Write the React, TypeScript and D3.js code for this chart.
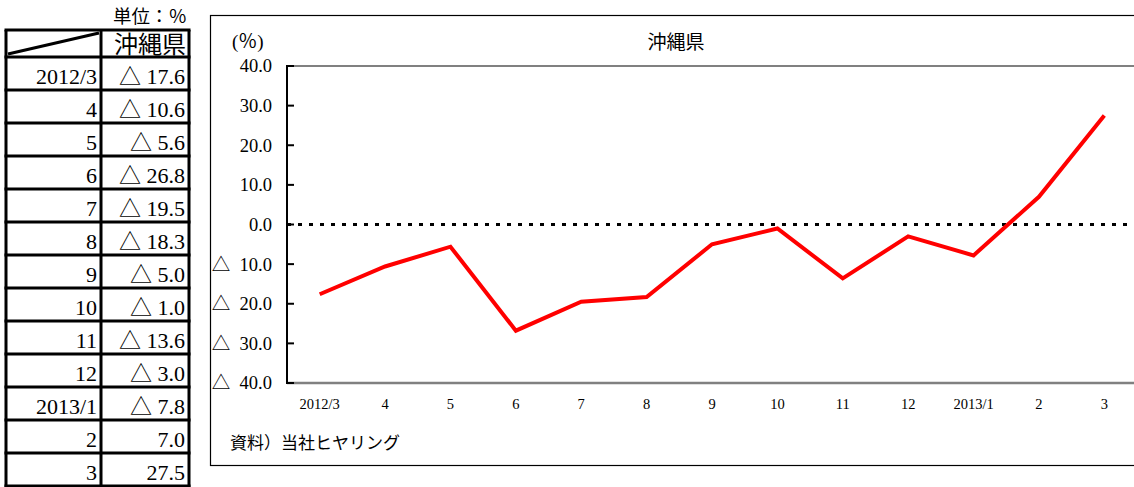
import { useRef, useEffect } from "react";
import * as d3 from "d3";

const months = ["2012/3", "4", "5", "6", "7", "8", "9", "10", "11", "12", "2013/1", "2", "3"];
const okinawa = [-17.6, -10.6, -5.6, -26.8, -19.5, -18.3, -5.0, -1.0, -13.6, -3.0, -7.8, 7.0, 27.5];
const yTicks = [40, 30, 20, 10, 0, -10, -20, -30, -40];

const FONT = "'Liberation Serif', 'Noto Sans CJK JP', serif";

// negatives are written with a triangle, as in the source sheet
const fmt = (v: number, gap = "\u00a0\u00a0") => (v < 0 ? "△" + gap + Math.abs(v).toFixed(1) : v.toFixed(1));

export default function App() {
  const ref = useRef<SVGSVGElement>(null);

  useEffect(() => {
    const svg = d3.select(ref.current);
    svg.selectAll("*").remove();

    const width = 1134;
    const height = 487;

    svg.attr("width", width).attr("height", height).style("font-family", FONT);

    // ---- table on the left ----
    const tbl = { left: 6, mid: 101, right: 189, top: 30, head: 57, rowH: 33 };
    const tg = svg.append("g");

    tg.append("text")
      .attr("x", tbl.right - 2)
      .attr("y", 23)
      .attr("text-anchor", "end")
      .attr("font-size", 18.5)
      .text("単位：％");

    tg.append("text")
      .attr("x", tbl.right - 3)
      .attr("y", 53)
      .attr("text-anchor", "end")
      .attr("font-size", 24)
      .text("沖縄県");

    const rowY = (i: number) => tbl.head + i * tbl.rowH;

    months.forEach((m, i) => {
      tg.append("text")
        .attr("x", tbl.mid - 4)
        .attr("y", rowY(i) + 27)
        .attr("text-anchor", "end")
        .attr("font-size", 22)
        .text(m);
      tg.append("text")
        .attr("x", tbl.right - 4)
        .attr("y", rowY(i) + 27)
        .attr("text-anchor", "end")
        .attr("font-size", 22)
        .text(fmt(okinawa[i], "\u00a0"));
    });

    const hLines = [tbl.top, ...months.map((_, i) => rowY(i)), rowY(months.length)];
    hLines.forEach(y => {
      tg.append("line")
        .attr("x1", tbl.left - 1.5).attr("x2", tbl.right + 1.5)
        .attr("y1", y).attr("y2", y)
        .attr("stroke", "#000").attr("stroke-width", 3);
    });
    [tbl.left, tbl.mid, tbl.right].forEach(x => {
      tg.append("line")
        .attr("x1", x).attr("x2", x)
        .attr("y1", tbl.top).attr("y2", height)
        .attr("stroke", "#000").attr("stroke-width", 3);
    });
    tg.append("line")
      .attr("x1", tbl.left + 2).attr("y1", tbl.head - 3)
      .attr("x2", tbl.mid - 2).attr("y2", tbl.top + 3)
      .attr("stroke", "#000").attr("stroke-width", 3);

    // ---- chart ----
    svg.append("rect")
      .attr("x", 210.5).attr("y", 15.5)
      .attr("width", 1000).attr("height", 450)
      .attr("fill", "none").attr("stroke", "#000").attr("stroke-width", 1.2);

    const margin = { top: 66, bottom: 383, left: 287, right: 1137 };

    const x = d3.scaleBand<string>()
      .domain(months)
      .range([margin.left, margin.right])
      .padding(0);
    const cx = (m: string) => (x(m) ?? 0) + x.bandwidth() / 2;

    const y = d3.scaleLinear()
      .domain([-40, 40])
      .range([margin.bottom, margin.top]);

    svg.append("text")
      .attr("x", 676).attr("y", 49)
      .attr("text-anchor", "middle")
      .attr("font-size", 19)
      .text("沖縄県");

    svg.append("text")
      .attr("x", 232).attr("y", 48)
      .attr("font-size", 19)
      .text("(％)");

    // plot frame top / bottom
    svg.append("line")
      .attr("x1", margin.left).attr("x2", width)
      .attr("y1", y(40)).attr("y2", y(40))
      .attr("stroke", "#808080").attr("stroke-width", 2);
    svg.append("line")
      .attr("x1", margin.left).attr("x2", width)
      .attr("y1", y(-40)).attr("y2", y(-40))
      .attr("stroke", "#808080").attr("stroke-width", 2.5);

    // y axis
    const yAxis = svg.append("g");
    yAxis.append("line")
      .attr("x1", margin.left).attr("x2", margin.left)
      .attr("y1", y(40) - 1).attr("y2", y(-40) + 1)
      .attr("stroke", "#000").attr("stroke-width", 2);
    yTicks.forEach(t => {
      yAxis.append("line")
        .attr("x1", margin.left).attr("x2", margin.left + 7)
        .attr("y1", y(t)).attr("y2", y(t))
        .attr("stroke", "#000").attr("stroke-width", 2);
      yAxis.append("text")
        .attr("x", 272)
        .attr("y", y(t))
        .attr("dy", "0.35em")
        .attr("text-anchor", "end")
        .attr("font-size", 18.5)
        .text(fmt(t));
    });

    // zero line
    svg.append("line")
      .attr("x1", margin.left).attr("x2", width)
      .attr("y1", y(0)).attr("y2", y(0))
      .attr("stroke", "#000").attr("stroke-width", 3)
      .attr("stroke-dasharray", "4 7");

    // x labels
    months.forEach(m => {
      svg.append("text")
        .attr("x", cx(m))
        .attr("y", 404)
        .attr("dy", "0.35em")
        .attr("text-anchor", "middle")
        .attr("font-size", 14.5)
        .text(m);
    });

    // series line
    const line = d3.line<number>()
      .x((_, i) => cx(months[i]))
      .y(d => y(d));

    svg.append("path")
      .datum(okinawa)
      .attr("d", line)
      .attr("fill", "none")
      .attr("stroke", "#ff0000")
      .attr("stroke-width", 4)
      .attr("stroke-linejoin", "miter");

    svg.append("text")
      .attr("x", 230).attr("y", 449)
      .attr("font-size", 17)
      .text("資料）当社ヒヤリング");
  }, []);

  return (
    <div style={{ position: "absolute", left: 0, top: 0 }}>
      <svg ref={ref}></svg>
    </div>
  );
}
